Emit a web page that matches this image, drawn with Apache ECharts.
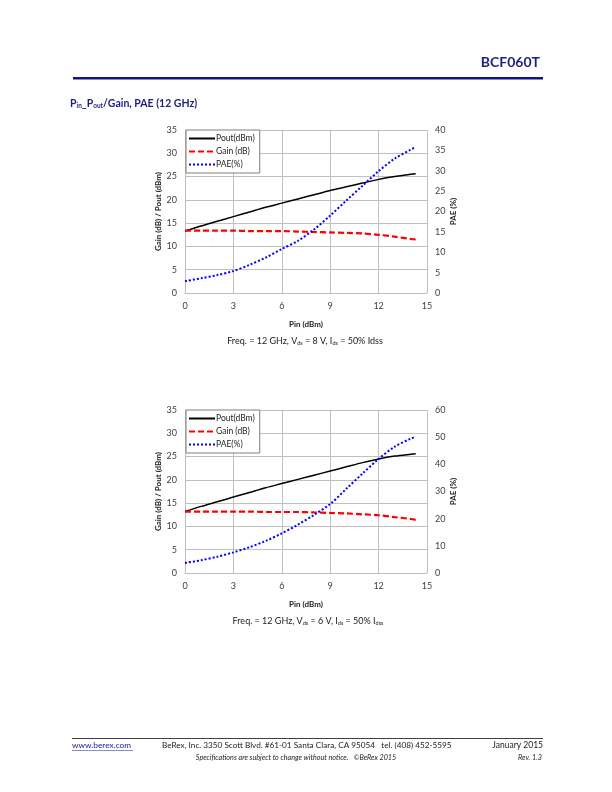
<!DOCTYPE html>
<html>
<head>
<meta charset="utf-8">
<script src="https://cdn.jsdelivr.net/npm/echarts@6/dist/echarts.min.js"></script>
<style>
  html, body { margin: 0; padding: 0; background: #fff; }
  #page { width: 612px; height: 792px; }
</style>
</head>
<body>
<div id="page"></div>
<script>
// Pin (dBm) sample points, shared by both charts
const pin = [0, 1, 2, 3, 4, 5, 6, 7, 8, 9, 10, 11, 12, 13, 14, 14.3]

// Vds = 8 V
const pout8 = [13.3, 14.4, 15.4, 16.4, 17.4, 18.4, 19.3, 20.2, 21.1, 22.0, 22.8, 23.6, 24.4, 25.0, 25.5, 25.6]
const gain8 = [13.4, 13.4, 13.4, 13.4, 13.3, 13.3, 13.3, 13.2, 13.1, 13.0, 12.9, 12.8, 12.5, 12.1, 11.6, 11.5]
const pae8 = [2.9, 3.6, 4.4, 5.4, 6.9, 8.7, 10.8, 12.8, 15.6, 19.0, 22.7, 26.3, 29.9, 33.0, 35.2, 35.8]

// Vds = 6 V
const pout6 = [13.2, 14.3, 15.3, 16.3, 17.3, 18.3, 19.2, 20.1, 21.0, 21.9, 22.8, 23.7, 24.5, 25.1, 25.5, 25.6]
const gain6 = [13.2, 13.2, 13.2, 13.2, 13.2, 13.1, 13.1, 13.1, 13.0, 12.9, 12.8, 12.6, 12.4, 12.0, 11.6, 11.4]
const pae6 = [3.7, 4.7, 6.0, 7.6, 9.5, 11.8, 14.6, 17.8, 21.4, 25.4, 31.0, 36.6, 42.0, 46.5, 49.5, 50.2]

// axis ticks
const xTicks = { min: 0, max: 15, interval: 3 }
const leftTicks = { min: 0, max: 35, interval: 5 }
const right8Ticks = { min: 0, max: 40, interval: 5 }
const right6Ticks = { min: 0, max: 60, interval: 10 }

const navy = '#1f1f80'
const font = 'Lato, "Open Sans", sans-serif'
const gridColor = '#c0c0c0'
const labelColor = '#404040'

const zip = (xs, ys) => xs.map((x, i) => [x, ys[i]])

const gridTops = [130, 410]

function xAxisFor(idx) {
  return {
    type: 'value',
    gridIndex: idx,
    ...xTicks,
    name: 'Pin (dBm)',
    nameLocation: 'middle',
    nameGap: 27,
    nameTextStyle: { fontFamily: font, fontSize: 8, fontWeight: 'bold', color: '#222' },
    axisLine: { show: true, lineStyle: { color: gridColor } },
    axisTick: { show: false },
    axisLabel: { fontFamily: font, fontSize: 9, color: labelColor, margin: 9 },
    splitLine: { show: true, lineStyle: { color: gridColor, width: 1 } }
  }
}

function leftAxisFor(idx) {
  return {
    type: 'value',
    gridIndex: idx,
    position: 'left',
    ...leftTicks,
    name: 'Gain (dB) / Pout (dBm)',
    nameLocation: 'middle',
    nameGap: 21,
    nameTextStyle: { fontFamily: font, fontSize: 8, fontWeight: 'bold', color: '#222' },
    axisLine: { show: true, lineStyle: { color: gridColor } },
    axisTick: { show: false },
    axisLabel: { fontFamily: font, fontSize: 9, color: labelColor, margin: 8 },
    splitLine: { show: true, lineStyle: { color: gridColor, width: 1 } }
  }
}

function rightAxisFor(idx, ticks) {
  return {
    type: 'value',
    gridIndex: idx,
    position: 'right',
    ...ticks,
    name: 'PAE (%)',
    nameLocation: 'middle',
    nameGap: 22,
    nameRotate: 90,
    nameTextStyle: { fontFamily: font, fontSize: 8, fontWeight: 'bold', color: '#222' },
    axisLine: { show: false },
    axisTick: { show: false },
    axisLabel: { fontFamily: font, fontSize: 9, color: labelColor, margin: 8 },
    splitLine: { show: false }
  }
}

function seriesFor(idx, pout, gain, pae) {
  return [
    {
      name: 'Pout(dBm)', type: 'line', xAxisIndex: idx, yAxisIndex: idx * 2,
      data: zip(pin, pout), smooth: 0.3, symbol: 'none',
      lineStyle: { color: '#000', width: 1.5 }, itemStyle: { color: '#000' }
    },
    {
      name: 'Gain (dB)', type: 'line', xAxisIndex: idx, yAxisIndex: idx * 2,
      data: zip(pin, gain), smooth: 0.3, symbol: 'none',
      lineStyle: { color: '#ff0000', width: 2.2, type: [6, 3] }, itemStyle: { color: '#ff0000' }
    },
    {
      name: 'PAE(%)', type: 'line', xAxisIndex: idx, yAxisIndex: idx * 2 + 1,
      data: zip(pin, pae), smooth: 0.3, symbol: 'none',
      lineStyle: { color: '#0000ff', width: 2, type: [2, 2] }, itemStyle: { color: '#0000ff' }
    }
  ]
}

function legendFor(idx) {
  return {
    orient: 'vertical',
    left: 186,
    top: gridTops[idx],
    itemWidth: 26,
    itemHeight: 10,
    itemGap: 4,
    padding: [4, 5, 4, 2],
    borderColor: '#7f7f7f',
    borderWidth: 1,
    backgroundColor: '#fff',
    itemStyle: { opacity: 0, borderWidth: 0 },
    textStyle: { fontFamily: font, fontSize: 8.5, color: '#222', padding: [0, 0, 0, -4] },
    data: ['Pout(dBm)', 'Gain (dB)', 'PAE(%)'],
    selectedMode: false
  }
}

const chart = echarts.init(document.getElementById('page'), null, { renderer: 'canvas' })

const captionRich = {
  s: { fontFamily: font, fontSize: 5.5, fill: '#222', verticalAlign: 'bottom', padding: [4, 0, 0, 0] }
}

const option = {
  animation: false,
  backgroundColor: '#fff',
  grid: gridTops.map(t => ({ left: 185, top: t, width: 242, height: 163, containLabel: false })),
  xAxis: [xAxisFor(0), xAxisFor(1)],
  yAxis: [leftAxisFor(0), rightAxisFor(0, right8Ticks), leftAxisFor(1), rightAxisFor(1, right6Ticks)],
  legend: [legendFor(0), legendFor(1)],
  series: [...seriesFor(0, pout8, gain8, pae8), ...seriesFor(1, pout6, gain6, pae6)],
  graphic: [
    // header
    {
      type: 'text', right: 72, top: 55,
      style: { text: 'BCF060T', fontFamily: font, fontSize: 14, fontWeight: 'bold', fill: navy }
    },
    {
      type: 'rect', shape: { x: 73, y: 77, width: 470, height: 2.5 },
      style: { fill: '#12128a' }
    },
    {
      type: 'text', left: 70, top: 98,
      style: {
        text: 'P{s|in}_P{s|out}/Gain, PAE (12 GHz)',
        fontFamily: font, fontSize: 10.5, fontWeight: 'bold', fill: navy,
        rich: {
          s: { fontFamily: font, fontSize: 6.5, fontWeight: 'bold', fill: navy, verticalAlign: 'bottom', padding: [5, 0, 0, 0] }
        }
      }
    },
    // captions
    {
      type: 'text', x: 305, y: 341,
      style: {
        text: 'Freq. = 12 GHz, V{s|ds} = 8 V, I{s|ds} = 50% Idss',
        fontFamily: font, fontSize: 9, fill: '#222', align: 'center', verticalAlign: 'middle',
        rich: captionRich
      }
    },
    {
      type: 'text', x: 308, y: 621,
      style: {
        text: 'Freq. = 12 GHz, V{s|ds} = 6 V, I{s|ds} = 50% I{s|dss}',
        fontFamily: font, fontSize: 9, fill: '#222', align: 'center', verticalAlign: 'middle',
        rich: captionRich
      }
    },
    // footer
    {
      type: 'rect', shape: { x: 72, y: 738, width: 471, height: 0.8 },
      style: { fill: '#000' }
    },
    {
      type: 'text', x: 72, y: 745,
      style: { text: 'www.berex.com', fontFamily: font, fontSize: 8.3, fill: '#1a1aa0', verticalAlign: 'middle' }
    },
    {
      type: 'rect', shape: { x: 72, y: 750, width: 61, height: 0.6 },
      style: { fill: '#1a1aa0' }
    },
    {
      type: 'text', x: 162, y: 745,
      style: { text: 'BeRex, Inc. 3350 Scott Blvd. #61-01 Santa Clara, CA 95054   tel. (408) 452-5595', fontFamily: font, fontSize: 8.2, fill: '#222', verticalAlign: 'middle' }
    },
    {
      type: 'text', x: 543, y: 745,
      style: { text: 'January 2015', fontFamily: font, fontSize: 8.5, fill: '#222', align: 'right', verticalAlign: 'middle' }
    },
    {
      type: 'text', x: 296, y: 758,
      style: { text: 'Specifications are subject to change without notice.   \u00A9BeRex 2015', fontFamily: font, fontSize: 7.2, fontStyle: 'italic', fill: '#222', align: 'center', verticalAlign: 'middle' }
    },
    {
      type: 'text', x: 542, y: 758,
      style: { text: 'Rev. 1.3', fontFamily: font, fontSize: 7.2, fontStyle: 'italic', fill: '#222', align: 'right', verticalAlign: 'middle' }
    }
  ]
}

chart.setOption(option)
</script>
</body>
</html>
